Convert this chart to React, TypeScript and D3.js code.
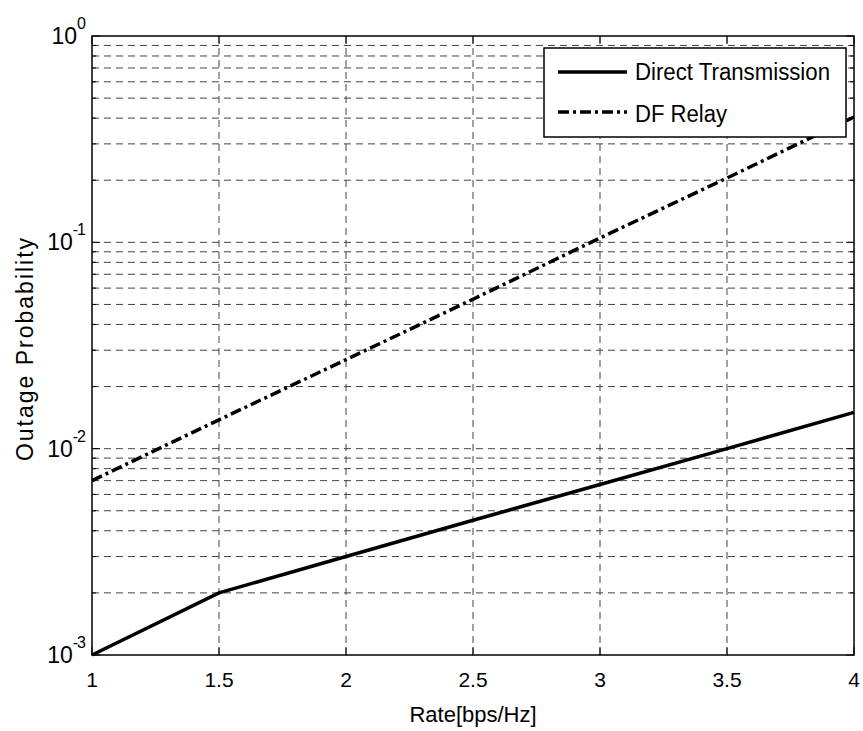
import React from "react";
import * as d3 from "d3";

const rates = [1, 1.5, 2, 2.5, 3, 3.5, 4];
const directTx = [1e-3, 2e-3, 3e-3, 4.5e-3, 6.7e-3, 1e-2, 1.5e-2];
const dfRelay = [7e-3, 1.38e-2, 2.7e-2, 5.3e-2, 0.105, 0.205, 0.405];
const xTicks = [1, 1.5, 2, 2.5, 3, 3.5, 4];
const yDecades = [-3, -2, -1, 0];
const seriesNames = ["Direct Transmission", "DF Relay"];

const W = 863, H = 731;
const M = { left: 92, right: 9, top: 36, bottom: 76 };
const FONT = "Arial, 'Liberation Sans', Helvetica, sans-serif";
const DASHDOT = "11,4,3,4";

export default function App() {
  const x = d3.scaleLinear().domain([1, 4]).range([M.left, W - M.right]);
  const y = d3.scaleLog().domain([1e-3, 1]).range([H - M.bottom, M.top]);
  const x0 = x.range()[0], x1 = x.range()[1];
  const y0 = y.range()[0], y1 = y.range()[1];

  const minor: number[] = [];
  for (let e = -3; e < 0; e++) for (let k = 2; k <= 9; k++) minor.push(k * Math.pow(10, e));
  const majors = yDecades.map((e) => Math.pow(10, e));

  const line = d3.line<number>().x((_, i) => x(rates[i])).y((d) => y(d));

  const dash = "7,5";
  const gridColor = "#444";

  const lg = { x: 544, y: 48, w: 302, h: 89 };

  return (
    <svg width={W} height={H} style={{ position: "absolute", left: 0, top: 0, background: "#fff" }}>
      <rect x={0} y={0} width={W} height={H} fill="#fff" />
      {/* grid */}
      <g stroke={gridColor} strokeWidth={1} strokeDasharray={dash} fill="none">
        {xTicks.slice(1, -1).map((t) => (
          <line key={"xg" + t} x1={x(t)} x2={x(t)} y1={y0} y2={y1} />
        ))}
        {[...minor, ...majors.slice(1, -1)].map((v) => (
          <line key={"yg" + v} x1={x0} x2={x1} y1={y(v)} y2={y(v)} />
        ))}
      </g>
      {/* ticks */}
      <g stroke="#000" strokeWidth={1}>
        {xTicks.map((t) => (
          <g key={"xt" + t}>
            <line x1={x(t)} x2={x(t)} y1={y0} y2={y0 - 8} />
            <line x1={x(t)} x2={x(t)} y1={y1} y2={y1 + 8} />
          </g>
        ))}
        {majors.map((v) => (
          <g key={"ytM" + v}>
            <line x1={x0} x2={x0 + 8} y1={y(v)} y2={y(v)} />
            <line x1={x1} x2={x1 - 8} y1={y(v)} y2={y(v)} />
          </g>
        ))}
        {minor.map((v) => (
          <g key={"ytm" + v}>
            <line x1={x0} x2={x0 + 4} y1={y(v)} y2={y(v)} />
            <line x1={x1} x2={x1 - 4} y1={y(v)} y2={y(v)} />
          </g>
        ))}
      </g>
      {/* data */}
      <path d={line(directTx) || ""} fill="none" stroke="#000" strokeWidth={3.5} />
      <path d={line(dfRelay) || ""} fill="none" stroke="#000" strokeWidth={3.5} strokeDasharray={DASHDOT} />
      {/* frame */}
      <rect x={x0} y={y1} width={x1 - x0} height={y0 - y1} fill="none" stroke="#000" strokeWidth={1.5} />
      {/* x tick labels */}
      <g fontFamily={FONT} fontSize={21} textAnchor="middle" fill="#000">
        {xTicks.map((t) => (
          <text key={"xl" + t} x={x(t)} y={y0 + 32}>{String(t)}</text>
        ))}
      </g>
      {/* y tick labels */}
      <g fontFamily={FONT} fill="#000">
        {yDecades.map((e) => (
          <text key={"yl" + e} x={x0 - 7} y={y(Math.pow(10, e)) + 8} textAnchor="end" fontSize={23}>
            10<tspan dy={-15} fontSize={16} letterSpacing={-1}>{String(e)}</tspan>
          </text>
        ))}
      </g>
      <text x={(x0 + x1) / 2} y={722} textAnchor="middle" fontFamily={FONT} fontSize={22}>Rate[bps/Hz]</text>
      <text transform={`translate(33,${(y0 + y1) / 2 + 3}) rotate(-90)`} textAnchor="middle" fontFamily={FONT} fontSize={23} letterSpacing={2}>Outage Probability</text>
      {/* legend */}
      <g>
        <rect x={lg.x} y={lg.y} width={lg.w} height={lg.h} fill="#fff" stroke="#000" strokeWidth={1.5} />
        <line x1={558} x2={627} y1={72} y2={72} stroke="#000" strokeWidth={3.5} />
        <line x1={558} x2={627} y1={112} y2={112} stroke="#000" strokeWidth={3.5} strokeDasharray={DASHDOT} />
        <text x={635} y={80} fontFamily={FONT} fontSize={23} textLength={195} lengthAdjust="spacingAndGlyphs">{seriesNames[0]}</text>
        <text x={635} y={122} fontFamily={FONT} fontSize={23} textLength={92} lengthAdjust="spacingAndGlyphs">{seriesNames[1]}</text>
      </g>
    </svg>
  );
}
